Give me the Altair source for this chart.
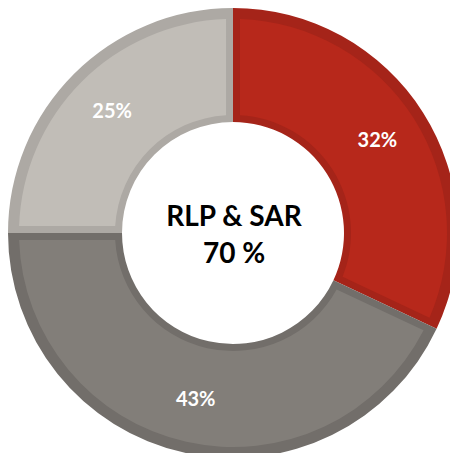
import altair as alt
import pandas as pd

categories = ["RLP", "Other", "SAR"]
values = [32, 43, 25]
labels = ["32%", "43%", "25%"]
fill_colors = ["#B7281B", "#827E79", "#C1BDB7"]
border_colors = ["#A52419", "#726E6A", "#ADA9A4"]
center_lines = ["RLP & SAR", "70 %"]

df = pd.DataFrame({
    "cat": categories,
    "value": values,
    "label": labels,
    "fill": fill_colors,
    "border": border_colors,
    "order": list(range(len(categories))),
})

theta = alt.Theta("value:Q", stack=True)
order = alt.Order("order:Q")
cx = alt.value(225)
cy = alt.value(225)

outer = alt.Chart(df).mark_arc(radius=225, radius2=111).encode(
    theta=theta, order=order, x=cx, y=cy,
    color=alt.Color("border:N", scale=None),
)

inner = alt.Chart(df).mark_arc(radius=214, radius2=118, padAngle=0.057).encode(
    theta=theta, order=order, x=cx, y=cy,
    color=alt.Color("fill:N", scale=None),
)

pct = alt.Chart(df).mark_text(
    radius=171, font="Lato", fontSize=20, fontWeight="bold", color="white",
    align="center", baseline="middle",
).encode(
    theta=theta, order=order, x=cx, y=cy,
    text="label:N",
)

cdf = pd.DataFrame({"line": center_lines, "y": [218, 255]})
center = alt.Chart(cdf).mark_text(
    font="Lato", fontSize=28, fontWeight="bold", color="black",
    align="center", baseline="alphabetic",
).encode(
    x=alt.value(226),
    y=alt.Y("y:Q", scale=None),
    text="line:N",
)

chart = alt.layer(outer, inner, pct, center).properties(
    width=442, height=445, padding=0,
    autosize=alt.AutoSizeParams(type="none"),
).configure_view(stroke=None)

chart.save("out.html", embed_options={"renderer": "svg", "actions": False})
